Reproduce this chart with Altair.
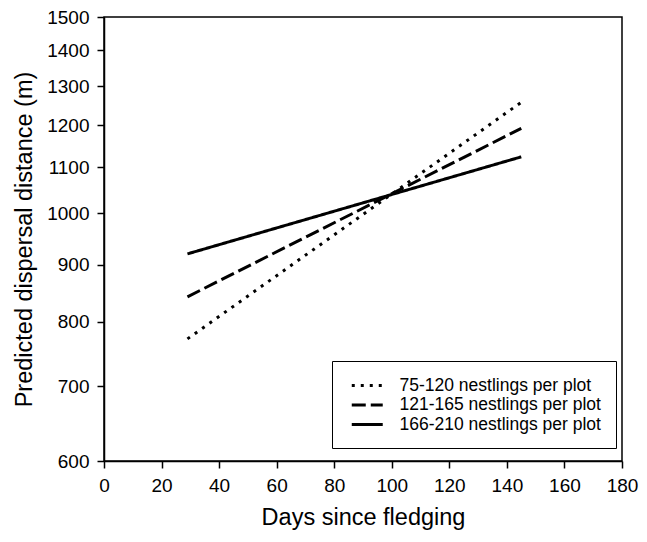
import altair as alt
import pandas as pd

# ---- data ----
series_names = [
    "75-120 nestlings per plot",
    "121-165 nestlings per plot",
    "166-210 nestlings per plot",
]
days = [29, 145]
dist_75_120 = [772, 1258]
dist_121_165 = [842, 1192]
dist_166_210 = [920, 1124]

x_ticks = [0, 20, 40, 60, 80, 100, 120, 140, 160, 180]
y_ticks = [600, 700, 800, 900, 1000, 1100, 1200, 1300, 1400, 1500]

rows = []
for name, vals in zip(series_names, [dist_75_120, dist_121_165, dist_166_210]):
    for d, v in zip(days, vals):
        rows.append({"series": name, "day": d, "dist": v})
df = pd.DataFrame(rows)

FONT = "Liberation Sans"

label_expr = (
    "datum.label == '75-120 nestlings per plot' ? '\u2007' + datum.label : datum.label"
)

chart = (
    alt.Chart(df)
    .mark_line(color="black", strokeWidth=3)
    .encode(
        x=alt.X(
            "day:Q",
            scale=alt.Scale(domain=[0, 180], nice=False),
            axis=alt.Axis(values=x_ticks, title="Days since fledging",
                          labelPadding=8, titlePadding=10, labelFlush=False),
        ),
        y=alt.Y(
            "dist:Q",
            scale=alt.Scale(type="log", domain=[600, 1500], nice=False),
            axis=alt.Axis(values=y_ticks, format="d",
                          title="Predicted dispersal distance (m)",
                          labelPadding=8, titlePadding=10, labelFlush=False),
        ),
        strokeDash=alt.StrokeDash(
            "series:N",
            scale=alt.Scale(domain=series_names,
                            range=[[3, 6], [14, 5], [1, 0]]),
            legend=alt.Legend(
                title=None,
                orient="none",
                legendX=228,
                legendY=344,
                strokeColor="black",
                fillColor="white",
                padding=15,
                symbolType="M-2,0H2",
                symbolSize=240,
                symbolStrokeWidth=3,
                symbolStrokeColor="black",
                symbolOffset=10.75,
                labelOffset=22.75,
                labelFontSize=17.5,
                labelFont=FONT,
                labelColor="black",
                labelLimit=400,
                rowPadding=1.5,
                labelExpr=label_expr,
            ),
        ),
        detail="series:N",
    )
    .properties(
        width=518,
        height=444,
        autosize=alt.AutoSizeParams(type="none"),
        padding={"left": 96, "top": 9, "right": 17, "bottom": 73},
    )
    .configure(background="white")
    .configure_view(stroke="black", strokeWidth=1.5)
    .configure_axis(
        grid=False,
        domainColor="black",
        domainWidth=1.5,
        tickColor="black",
        tickWidth=1.5,
        tickSize=7,
        labelFont=FONT,
        labelFontSize=19,
        labelColor="black",
        titleFont=FONT,
        titleFontSize=23.5,
        titleFontWeight="normal",
        titleColor="black",
    )
)

chart.save("out.html", embed_options={"renderer": "svg", "actions": False})
